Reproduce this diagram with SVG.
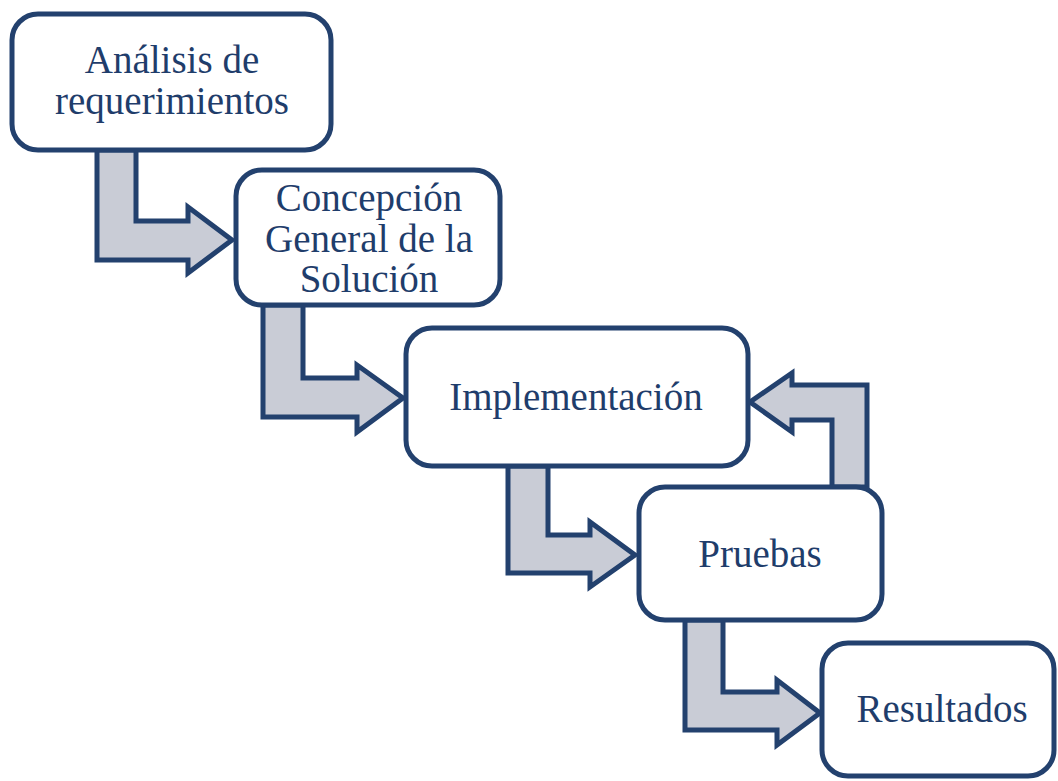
<svg xmlns="http://www.w3.org/2000/svg" width="1058" height="781" viewBox="0 0 1058 781">
<style>
.box{fill:#ffffff;stroke:#23416e;stroke-width:5}
.arr{fill:#c9ccd6;stroke:#23416e;stroke-width:5;stroke-linejoin:miter}
.t{font-family:"Liberation Serif","Times New Roman",serif;font-size:39px;fill:#1f3d6b;text-anchor:middle}
</style>
<rect width="1058" height="781" fill="#ffffff"/>
<g id="connectors">
<polygon class="arr" points="97,150 97,260 188,260 188,273 232,240 188,207 188,221 136,221 136,150"/>
<polygon class="arr" points="263,305 263,417 357,417 357,432 403,398 357,365 357,378 303,378 303,305"/>
<polygon class="arr" points="508,466 508,573 590,573 590,587 635,555 590,522 590,535 548,535 548,466"/>
<polygon class="arr" points="685,620 685,730 777,730 777,745 820,713 777,680 777,692 723,692 723,620"/>
<polygon class="arr" points="867,487 867,385 792,385 792,373 750,402 792,432 792,420 832,420 832,487"/>
</g>
<g id="n1">
<rect class="box" x="12" y="14" width="319" height="136" rx="26"/>
<text class="t" x="172" y="73">Análisis de</text>
<text class="t" x="172" y="114">requerimientos</text>
</g>
<g id="n2">
<rect class="box" x="236" y="170" width="264" height="135" rx="26"/>
<text class="t" x="369" y="211">Concepción</text>
<text class="t" x="369" y="252">General de la</text>
<text class="t" x="369" y="292">Solución</text>
</g>
<g id="n3">
<rect class="box" x="406" y="328" width="342" height="138" rx="26"/>
<text class="t" x="576" y="410">Implementación</text>
</g>
<g id="n4">
<rect class="box" x="639" y="487" width="243" height="133" rx="26"/>
<text class="t" x="760" y="567">Pruebas</text>
</g>
<g id="n5">
<rect class="box" x="822" y="643" width="232" height="133" rx="26"/>
<text class="t" x="942" y="722">Resultados</text>
</g>
</svg>
